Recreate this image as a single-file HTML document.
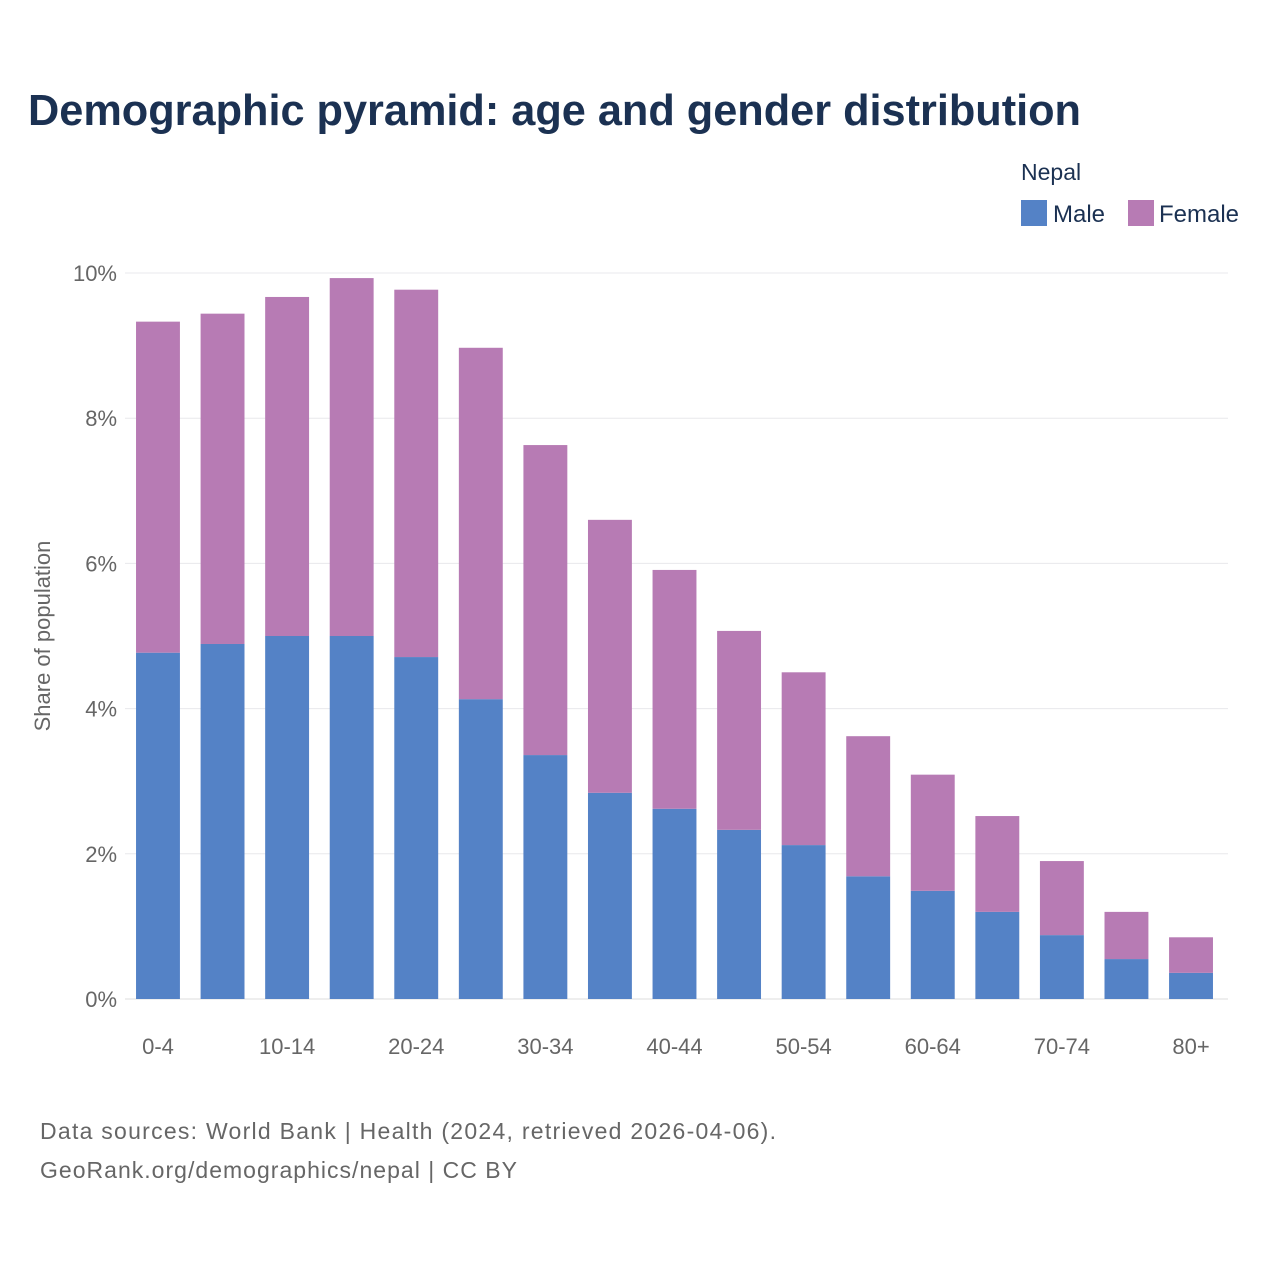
<!DOCTYPE html>
<html><head><meta charset="utf-8"><style>
body{margin:0;background:#fff;font-family:"Liberation Sans",sans-serif}
svg text{font-family:"Liberation Sans",sans-serif}
</style></head><body>
<svg id="chart" width="1280" height="1280" viewBox="0 0 1280 1280">
<text x="28" y="125" font-size="43.3" font-weight="bold" fill="#1b3152" textLength="1053">Demographic pyramid: age and gender distribution</text>
<text x="1021" y="180" font-size="23" fill="#1b3152">Nepal</text>
<g><rect x="1021" y="200" width="26" height="26" fill="#5482c6"/><text x="1053" y="222" font-size="24" fill="#1b3152">Male</text></g>
<g><rect x="1128" y="200" width="26" height="26" fill="#b77bb4"/><text x="1159" y="222" font-size="24" fill="#1b3152">Female</text></g>
<text transform="translate(50,636) rotate(-90)" text-anchor="middle" font-size="22" fill="#666">Share of population</text>
<g id="grid"></g><g id="bars"></g><g id="xlabels"></g>
<text x="40" y="1139" font-size="23" fill="#666" textLength="736">Data sources: World Bank | Health (2024, retrieved 2026-04-06).</text>
<text x="40" y="1178" font-size="23" fill="#666" textLength="477">GeoRank.org/demographics/nepal | CC BY</text>
</svg>
<script>
const categories=["0-4","5-9","10-14","15-19","20-24","25-29","30-34","35-39","40-44","45-49","50-54","55-59","60-64","65-69","70-74","75-79","80+"];
const male=[4.77,4.89,5.00,5.00,4.71,4.13,3.36,2.84,2.62,2.33,2.12,1.69,1.49,1.20,0.88,0.55,0.36];
const female=[4.56,4.55,4.67,4.93,5.06,4.84,4.27,3.76,3.29,2.74,2.38,1.93,1.60,1.32,1.02,0.65,0.49];
const yTicks=[0,2,4,6,8,10];
const xLabelShown=["0-4","10-14","20-24","30-34","40-44","50-54","60-64","70-74","80+"];
const NS="http://www.w3.org/2000/svg";
const x0=125.7,x1=1223.3,gx1=1228,y0=999,yTop=273;
const y=v=>y0-(v/10)*(y0-yTop);
const band=(x1-x0)/categories.length;
const xc=i=>x0+band*(i+0.5);
function mk(t,a,p){const e=document.createElementNS(NS,t);for(const k in a)e.setAttribute(k,a[k]);p.appendChild(e);return e;}
const g=document.getElementById('grid');
yTicks.forEach(t=>{
 const l=mk('line',{x1:125,x2:gx1,y1:y(t),y2:y(t),stroke:t===0?'#ddd':'#e8e8ec','stroke-width':1},g);
 
 
 const tx=mk('text',{x:117,y:y(t)+8,'text-anchor':'end','font-size':22,fill:'#666'},g);
 tx.textContent=t+'%';
 
 
});
const b=document.getElementById('bars');
const bw=band*0.68;
categories.forEach((c,i)=>{
 const rm=mk('rect',{x:xc(i)-bw/2,y:y(male[i]),width:bw,height:y0-y(male[i]),fill:'#5482c6'},b);
 
 
 const tot=male[i]+female[i];
 const rf=mk('rect',{x:xc(i)-bw/2,y:y(tot),width:bw,height:y(male[i])-y(tot),fill:'#b77bb4'},b);
 
 
});
const xl=document.getElementById('xlabels');
categories.forEach((c,i)=>{
 if(!xLabelShown.includes(c))return;
 const t=mk('text',{x:xc(i),y:1054,'text-anchor':'middle','font-size':22,fill:'#666'},xl);
 t.textContent=c;
 
 
});
</script>
</body></html>
